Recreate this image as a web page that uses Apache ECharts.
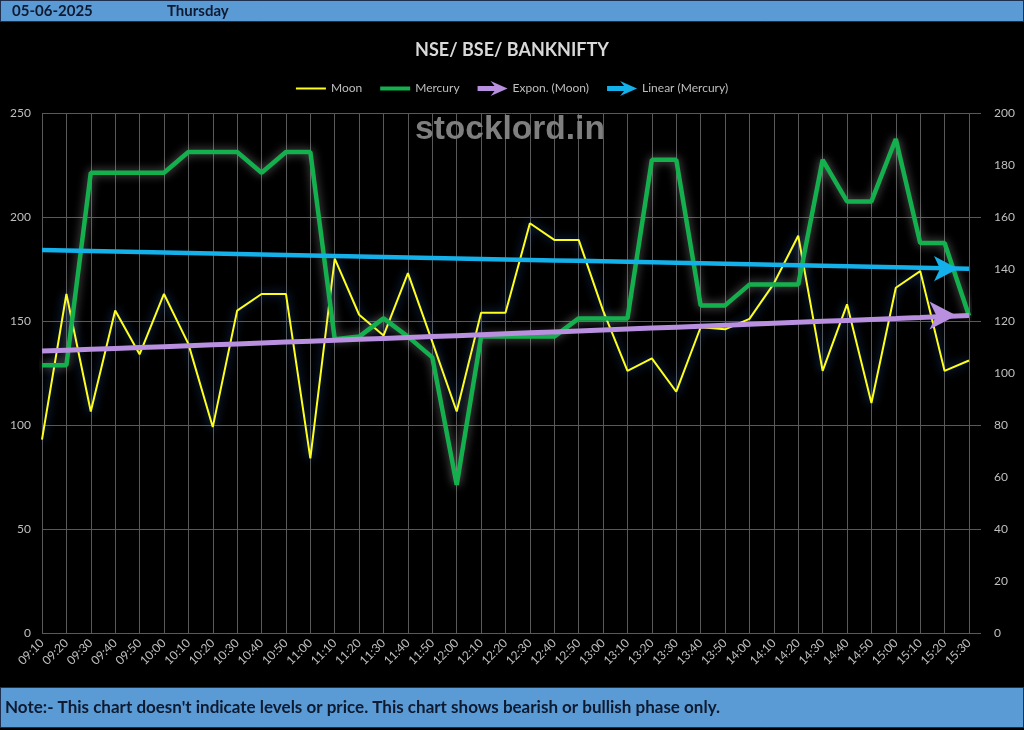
<!DOCTYPE html>
<html>
<head>
<meta charset="utf-8">
<script src="https://cdn.jsdelivr.net/npm/echarts@6/dist/echarts.min.js"></script>
<style>
html,body{margin:0;padding:0;background:#000;}
#chart{width:1024px;height:730px;}
</style>
</head>
<body>
<div id="chart"></div>
<script>
// ---- data ----
const dateText = '05-06-2025';
const dayText = 'Thursday';
const titleText = 'NSE/ BSE/ BANKNIFTY';
const watermark = 'stocklord.in';
const noteText = "Note:- This chart doesn't indicate levels or price. This chart shows bearish or bullish phase only.";
const categories = ['09:10','09:20','09:30','09:40','09:50','10:00','10:10','10:20','10:30','10:40','10:50','11:00','11:10','11:20','11:30','11:40','11:50','12:00','12:10','12:20','12:30','12:40','12:50','13:00','13:10','13:20','13:30','13:40','13:50','14:00','14:10','14:20','14:30','14:40','14:50','15:00','15:10','15:20','15:30'];
const moon = [93,163,106.5,155,134,163,139,99,155,163,163,84,180,153,143,173,140,106.5,154,154,197,189,189,155,126,132,116,147,146,151,168,191,126,158,110.6,166,174,126,131];
const mercury = [103,103,177,177,177,177,185,185,185,177,185,185,113,114,121,114,106,57,114,114,114,114,121,121,121,182,182,126,126,134,134,134,182,166,166,190,150,150,122];
const leftTicks = {min:0, max:250, interval:50};
const rightTicks = {min:0, max:200, interval:20};

// ---- trendlines computed from the data ----
function linearFit(ys){
  const n=ys.length; let sx=0,sy=0,sxx=0,sxy=0;
  ys.forEach((y,i)=>{sx+=i;sy+=y;sxx+=i*i;sxy+=i*y;});
  const b=(n*sxy-sx*sy)/(n*sxx-sx*sx); const a=(sy-b*sx)/n;
  return ys.map((_,i)=>a+b*i);
}
function expFit(ys){
  const l=linearFit(ys.map(Math.log));
  return l.map(Math.exp);
}
function withArrow(vals, size){
  return vals.map((v,i)=> i===vals.length-1
    ? {value:v, symbol:'arrow', symbolSize:size, symbolRotate:-90, symbolOffset:[-size[1]/2+1,0]}
    : v);
}
const expMoon = withArrow(expFit(moon), [21,27]);
const linMercury = withArrow(linearFit(mercury), [19,24]);

const FONT = 'Lato';
const chart = echarts.init(document.getElementById('chart'), null, {renderer:'canvas'});
const arrowIcon = 'path://M0,5 L17,5 L13,0 L30,7.5 L13,15 L17,10 L0,10 Z';
const thinLine = 'path://M0,0 L0.01,0 L0,0.01 Z M0,6.5 L30,6.5 L30,8.5 L0,8.5 Z M30,15 L29.99,15 L30,14.99 Z';
const thickLine = 'path://M0,0 L0.01,0 L0,0.01 Z M0,5.5 L30,5.5 L30,9.5 L0,9.5 Z M30,15 L29.99,15 L30,14.99 Z';

chart.setOption({
  backgroundColor:'#000000',
  animation:false,
  textStyle:{fontFamily:FONT},
  title:{
    text:titleText, left:'center', top:36,
    textStyle:{color:'#d9d9d9', fontSize:18, fontWeight:'bold', fontFamily:FONT}
  },
  legend:{
    top:76, left:'center', itemWidth:30, itemHeight:15, itemGap:18,
    textStyle:{color:'#bfbfbf', fontSize:12, fontFamily:FONT},
    data:[
      {name:'Moon', icon:thinLine, itemStyle:{color:'#ffff1e', borderWidth:0}},
      {name:'Mercury', icon:thickLine, itemStyle:{color:'#14b04e', borderWidth:0}},
      {name:'Expon. (Moon)', icon:arrowIcon, itemStyle:{color:'#b98fe0', borderWidth:0}},
      {name:'Linear (Mercury)', icon:arrowIcon, itemStyle:{color:'#14b0ea', borderWidth:0}}
    ]
  },
  grid:[
    {left:42, right:55, top:113, bottom:97},
    {left:42, right:43, top:113, bottom:97}
  ],
  xAxis:[
    {
      type:'category', gridIndex:0, data:categories, boundaryGap:false,
      axisLine:{show:false}, axisTick:{show:false},
      axisLabel:{color:'#bfbfbf', fontSize:12, rotate:45, interval:0, margin:8, fontFamily:FONT},
      splitLine:{show:true, interval:0, lineStyle:{color:'#595959', width:1}}
    },
    {type:'value', gridIndex:1, show:false, min:0, max:1}
  ],
  yAxis:[
    {
      type:'value', gridIndex:0, position:'left',
      min:leftTicks.min, max:leftTicks.max, interval:leftTicks.interval,
      axisLine:{show:false}, axisTick:{show:false},
      axisLabel:{color:'#bfbfbf', fontSize:12, margin:11, fontFamily:FONT},
      splitLine:{show:false}
    },
    {
      type:'value', gridIndex:0, position:'right',
      min:rightTicks.min, max:rightTicks.max, interval:rightTicks.interval,
      axisLine:{show:false}, axisTick:{show:false},
      axisLabel:{color:'#bfbfbf', fontSize:12, margin:25, fontFamily:FONT},
      splitLine:{show:false}
    },
    {
      type:'value', gridIndex:1, position:'left',
      min:leftTicks.min, max:leftTicks.max, interval:leftTicks.interval,
      axisLine:{show:false}, axisTick:{show:false}, axisLabel:{show:false},
      splitLine:{show:true, lineStyle:{color:'#595959', width:1}}
    }
  ],
  series:[
    {
      name:'Moon', type:'line', xAxisIndex:0, yAxisIndex:0, data:moon,
      symbol:'none', color:'#ffff1e', z:3,
      lineStyle:{color:'#ffff1e', width:2, shadowBlur:10, shadowColor:'rgba(40,90,170,0.9)'}
    },
    {
      name:'Mercury', type:'line', xAxisIndex:0, yAxisIndex:1, data:mercury,
      symbol:'none', color:'#14b04e', z:4,
      lineStyle:{color:'#14b04e', width:4.5, shadowBlur:10, shadowColor:'rgba(210,210,210,0.5)'}
    },
    {
      name:'Expon. (Moon)', type:'line', xAxisIndex:0, yAxisIndex:0, data:expMoon,
      symbol:'none', showAllSymbol:true, color:'#b98fe0', z:5, silent:true,
      itemStyle:{color:'#b98fe0'},
      lineStyle:{color:'#b98fe0', width:5}
    },
    {
      name:'Linear (Mercury)', type:'line', xAxisIndex:0, yAxisIndex:1, data:linMercury,
      symbol:'none', showAllSymbol:true, color:'#14b0ea', z:6, silent:true,
      itemStyle:{color:'#14b0ea'},
      lineStyle:{color:'#14b0ea', width:4.5}
    }
  ],
  graphic:[
    {type:'rect', left:0, top:0, z:-1, shape:{width:1023, height:21}, style:{fill:'#5b9bd5', stroke:'#1f2f4f', lineWidth:1}},
    {type:'text', left:12, top:4, style:{text:dateText, fill:'#0e1a30', font:'bold 15px '+FONT}},
    {type:'text', left:167, top:4, style:{text:dayText, fill:'#0e1a30', font:'bold 15px '+FONT}},
    {type:'rect', left:0, top:687, z:-1, shape:{width:1023, height:40}, style:{fill:'#5b9bd5', stroke:'#1f2f4f', lineWidth:1}},
    {type:'text', left:5, top:699, style:{text:noteText, fill:'#0e1a30', font:'bold 17px '+FONT}},
    {type:'text', left:415, top:113, z:2, style:{text:watermark, fill:'#7f7f7f', font:'bold 33.5px "Liberation Sans"'}}
  ]
});
</script>
</body>
</html>
